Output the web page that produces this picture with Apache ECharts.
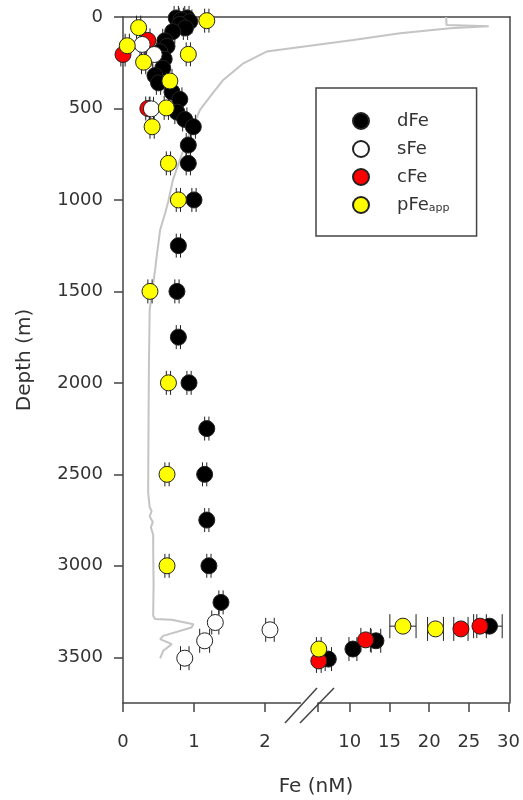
<!DOCTYPE html>
<html>
<head>
<meta charset="utf-8">
<script src="https://cdn.jsdelivr.net/npm/echarts@6/dist/echarts.min.js"></script>
<style>
  html, body { margin: 0; padding: 0; background: #fff; }
  #chart { width: 523px; height: 800px; }
</style>
</head>
<body>
<div id="chart"></div>
<script>
// Iron fractions: [Fe (nM), depth (m), ± error (nM)]
const dFe = [
  [0.75, 5, 0.03], [0.90, 5, 0.03], [0.82, 15, 0.03], [0.94, 25, 0.03], [0.80, 40, 0.03],
  [0.88, 60, 0.03], [0.70, 80, 0.03], [0.59, 130, 0.03], [0.62, 160, 0.03], [0.52, 190, 0.03],
  [0.58, 230, 0.03], [0.56, 280, 0.03], [0.45, 320, 0.03], [0.50, 360, 0.03], [0.69, 410, 0.03],
  [0.80, 450, 0.03], [0.76, 520, 0.03], [0.87, 560, 0.03], [0.99, 600, 0.03], [0.92, 700, 0.03],
  [0.92, 800, 0.03], [1.00, 1000, 0.03], [0.78, 1250, 0.03], [0.76, 1500, 0.03], [0.78, 1750, 0.03],
  [0.93, 2000, 0.03], [1.18, 2250, 0.03], [1.15, 2500, 0.03], [1.18, 2750, 0.03], [1.21, 3000, 0.03],
  [1.38, 3200, 0.03],
  [27.6, 3330, 1.6], [13.3, 3410, 0.6], [10.4, 3455, 0.5], [7.3, 3510, 0.4]
];
const sFe = [
  [0.27, 150, 0.03], [0.44, 205, 0.03], [0.40, 502, 0.03],
  [1.30, 3310, 0.05], [2.07, 3350, 0.06], [1.15, 3410, 0.07], [0.87, 3505, 0.06]
];
const cFe = [
  [0.35, 128, 0.03], [0.00, 205, 0.03], [0.35, 500, 0.03],
  [6.1, 3520, 0.3], [12.0, 3405, 0.6], [24.0, 3345, 0.9], [26.4, 3330, 0.8]
];
const pFeApp = [
  [1.18, 20, 0.03], [0.22, 58, 0.03], [0.06, 157, 0.03], [0.92, 204, 0.03], [0.29, 247, 0.03],
  [0.66, 350, 0.03], [0.61, 497, 0.03], [0.41, 600, 0.03], [0.64, 800, 0.03], [0.78, 1000, 0.03],
  [0.38, 1500, 0.03], [0.64, 2000, 0.03], [0.62, 2500, 0.03], [0.62, 3000, 0.03],
  [6.1, 3455, 0.3], [16.7, 3330, 1.65], [20.8, 3345, 1.0]
];

// Continuous sensor profile (relative units, 0-100 across the panel): depth (m), signal
const profileDepth = [
  0, 44, 50, 56, 62, 89, 126, 189, 253, 344, 435, 508, 546, 671, 781, 890, 1008, 1071,
  1163, 1308, 1381, 1490, 1600, 1900, 2200, 2600, 2680, 2700, 2730, 2760, 2790, 2830,
  2900, 3100, 3273, 3291, 3295, 3319, 3337, 3383, 3401, 3428, 3464, 3506
];
const profileSignal = [
  83.5, 83.6, 94.5, 94.3, 84.5, 71.6, 59.5, 37.1, 31.1, 25.9, 22.5, 19.9, 19.1, 16.5, 14.7, 12.9, 11.7, 10.9,
  9.6, 8.7, 8.3, 7.6, 6.9, 6.7, 6.6, 6.5, 6.9, 7.4, 6.9, 7.7, 7.2, 7.8,
  7.8, 7.9, 7.8, 8.3, 12.6, 18.2, 17.7, 10.4, 9.6, 12.6, 10.4, 9.6
];

// Broken Fe axis: low segment and high segment
const lowRange = [0, 2.5];
const highRange = [6, 30];
const lowTickLabels = [0, 1, 2];
const highTicks = [6, 10, 15, 20, 25, 30];
const highTickLabels = [10, 15, 20, 25, 30];
const depthRange = [0, 3750];
const depthStep = 500;
const legendOrder = ['dFe', 'sFe', 'cFe', 'pFe_app'];

const FONT = '"DejaVu Sans", Verdana, sans-serif';
const AXIS_COLOR = '#444';
const TEXT_COLOR = '#333';

const inLow = arr => arr.filter(p => p[0] <= lowRange[1]);
const inHigh = arr => arr.filter(p => p[0] >= highRange[0]);

// Drawing order: later entries sit on top
const species = [
  { name: 'dFe', data: dFe, color: '#000000' },
  { name: 'cFe', data: cFe, color: '#ff0000' },
  { name: 'sFe', data: sFe, color: '#ffffff' },
  { name: 'pFe_app', data: pFeApp, color: '#ffff00' }
];

// Horizontal error bar with vertical end caps
function errorBar(params, api) {
  const x = api.value(0), y = api.value(1), e = api.value(2);
  const a = api.coord([x - e, y]);
  const b = api.coord([x + e, y]);
  const h = 12;
  const style = { stroke: '#222', lineWidth: 1 };
  return {
    type: 'group',
    children: [
      { type: 'line', shape: { x1: a[0], y1: a[1], x2: b[0], y2: b[1] }, style },
      { type: 'line', shape: { x1: a[0], y1: a[1] - h, x2: a[0], y2: a[1] + h }, style },
      { type: 'line', shape: { x1: b[0], y1: b[1] - h, x2: b[0], y2: b[1] + h }, style }
    ]
  };
}

const series = [{
  type: 'line',
  xAxisIndex: 2, yAxisIndex: 2,
  data: profileDepth.map((d, i) => [profileSignal[i], d]),
  symbol: 'none',
  lineStyle: { color: '#c4c4c4', width: 2 },
  z: 1,
  silent: true
}];

species.forEach(s => {
  [[inLow(s.data), 0], [inHigh(s.data), 1]].forEach(([pts, idx]) => {
    series.push({
      type: 'custom',
      xAxisIndex: idx, yAxisIndex: idx,
      data: pts,
      renderItem: errorBar,
      encode: { x: 0, y: 1 },
      clip: false,
      z: 2,
      silent: true
    });
  });
});

species.forEach(s => {
  [[inLow(s.data), 0], [inHigh(s.data), 1]].forEach(([pts, idx]) => {
    series.push({
      name: s.name,
      type: 'scatter',
      xAxisIndex: idx, yAxisIndex: idx,
      data: pts.map(p => [p[0], p[1]]),
      symbol: 'circle',
      symbolSize: 16,
      itemStyle: { color: s.color, borderColor: '#222', borderWidth: 1, opacity: 1 },
      clip: false,
      z: 3
    });
  });
});

const axisLineStyle = { color: AXIS_COLOR, width: 1.5 };

const depthAxisBase = {
  type: 'value',
  inverse: true,
  min: depthRange[0],
  max: depthRange[1],
  interval: depthStep,
  splitLine: { show: false }
};

const option = {
  animation: false,
  backgroundColor: '#fff',
  grid: [
    { left: 123, top: 17, width: 177.5, height: 686 },
    { left: 318, top: 17, width: 192, height: 686 },
    { left: 123, top: 17, width: 387, height: 686 }
  ],
  xAxis: [
    {
      gridIndex: 0, type: 'value', min: lowRange[0], max: lowRange[1], position: 'bottom',
      axisLine: { show: true, onZero: false, lineStyle: axisLineStyle },
      axisTick: { show: true, length: 9, customValues: lowTickLabels, lineStyle: axisLineStyle },
      axisLabel: { customValues: lowTickLabels, margin: 30, fontSize: 18, color: TEXT_COLOR, fontFamily: FONT },
      splitLine: { show: false }
    },
    {
      gridIndex: 1, type: 'value', min: highRange[0], max: highRange[1], position: 'bottom',
      axisLine: { show: true, onZero: false, lineStyle: axisLineStyle },
      axisTick: { show: true, length: 9, customValues: highTicks, lineStyle: axisLineStyle },
      axisLabel: { customValues: highTickLabels, margin: 30, fontSize: 18, color: TEXT_COLOR, fontFamily: FONT },
      splitLine: { show: false }
    },
    {
      gridIndex: 2, type: 'value', min: 0, max: 100, position: 'top',
      axisLine: { show: true, onZero: false, lineStyle: axisLineStyle },
      axisTick: { show: false }, axisLabel: { show: false }, splitLine: { show: false }
    }
  ],
  yAxis: [
    Object.assign({}, depthAxisBase, {
      gridIndex: 0, position: 'left',
      axisLine: { show: true, onZero: false, lineStyle: axisLineStyle },
      axisTick: { show: true, length: 9, lineStyle: axisLineStyle },
      axisLabel: {
        showMaxLabel: false, margin: 20, fontSize: 18, color: TEXT_COLOR, fontFamily: FONT,
        formatter: v => String(v)
      },
      name: 'Depth (m)', nameLocation: 'middle', nameRotate: 90, nameGap: 88,
      nameTextStyle: { fontSize: 20, color: TEXT_COLOR, fontFamily: FONT }
    }),
    Object.assign({}, depthAxisBase, { gridIndex: 1, show: false }),
    Object.assign({}, depthAxisBase, {
      gridIndex: 2, position: 'right',
      axisLine: { show: true, onZero: false, lineStyle: axisLineStyle },
      axisTick: { show: false }, axisLabel: { show: false }
    })
  ],
  legend: {
    data: legendOrder,
    orient: 'vertical',
    left: 316, top: 88,
    padding: [24, 27, 22, 36],
    itemWidth: 62, itemHeight: 16, itemGap: 10,
    icon: 'circle',
    selectedMode: false,
    backgroundColor: '#fff',
    borderColor: AXIS_COLOR, borderWidth: 1.5,
    formatter: name => name === 'pFe_app' ? '{m|pFe}{sub|app}' : '{m|' + name + '}',
    textStyle: {
      color: TEXT_COLOR, fontFamily: FONT, fontSize: 18,
      rich: {
        m: { fontSize: 18, lineHeight: 18, color: TEXT_COLOR, fontFamily: FONT },
        sub: { fontSize: 11, lineHeight: 18, verticalAlign: 'bottom', color: TEXT_COLOR, fontFamily: FONT }
      }
    }
  },
  graphic: [
    { type: 'line', shape: { x1: 285, y1: 723, x2: 317, y2: 688 }, style: { stroke: AXIS_COLOR, lineWidth: 1.5 }, z: 10 },
    { type: 'line', shape: { x1: 300, y1: 723, x2: 334, y2: 688 }, style: { stroke: AXIS_COLOR, lineWidth: 1.5 }, z: 10 },
    {
      type: 'text', x: 316, y: 787,
      style: { text: 'Fe (nM)', fontSize: 20, fontFamily: FONT, fill: TEXT_COLOR, align: 'center', verticalAlign: 'middle' }
    }
  ],
  series
};

const chart = echarts.init(document.getElementById('chart'), null, { renderer: 'canvas' });
chart.setOption(option);
</script>
</body>
</html>
